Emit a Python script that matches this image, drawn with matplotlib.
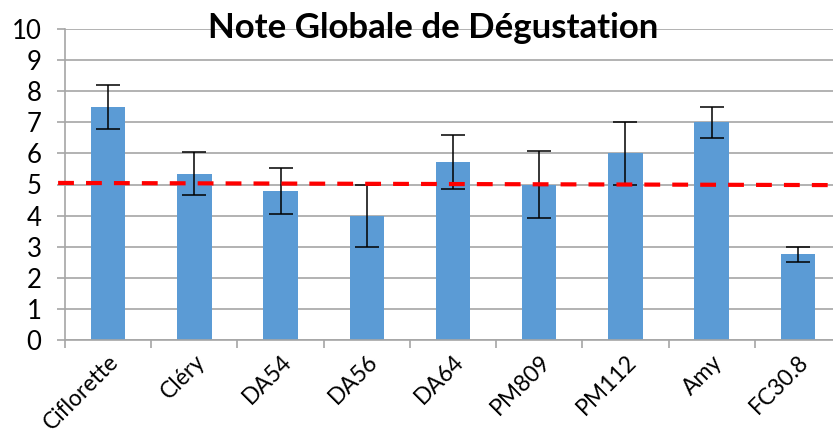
import matplotlib
matplotlib.use("Agg")
import matplotlib.pyplot as plt
import matplotlib.transforms as mtransforms
import numpy as np

# data
varieties = ["Ciflorette", "Cléry", "DA54", "DA56", "DA64",
             "PM809", "PM112", "Amy", "FC30.8"]
scores = [7.5, 5.35, 4.8, 4.0, 5.72, 5.0, 6.0, 7.0, 2.75]
errors = [0.7, 0.7, 0.74, 1.0, 0.87, 1.08, 1.0, 0.5, 0.25]
mean_line = [5.05, 4.98]   # red dashed reference, left -> right
yticks = list(range(0, 11))

BLUE = "#5B9BD5"
GRID = "#A6A6A6"

plt.rcParams["font.family"] = ["Lato", "DejaVu Sans"]

fig = plt.figure(figsize=(8.33, 4.30), dpi=100)
# plot area runs a little past the right edge, as in the reference crop
ax = fig.add_axes([65 / 833, 1 - 340 / 430, 776 / 833, 311 / 430])

x = np.arange(len(varieties))
ax.bar(x, scores, 0.4, color=BLUE, zorder=2)
ax.errorbar(x, scores, yerr=errors, fmt="none", ecolor="black",
            elinewidth=1.1, capsize=8.5, capthick=1.1, zorder=3)

ax.plot([-0.58, 8.5], mean_line, color="#FF0000", lw=3,
        ls=(0, (3.8, 2.9)), solid_capstyle="butt", dash_capstyle="butt",
        zorder=4, clip_on=False)

ax.set_xlim(-0.5, 8.5)
ax.set_ylim(0, 10)
ax.set_yticks(yticks)
ax.set_yticklabels([str(t) for t in yticks], fontsize=18.5)
ax.yaxis.grid(True, color=GRID, lw=1.2, zorder=0)
ax.set_axisbelow(True)

ax.set_xticks(np.arange(-0.5, 8.5, 1.0), minor=False)
ax.set_xticklabels([])
ax.set_xticks(x, minor=True)
ax.set_xticklabels(varieties, minor=True, rotation=45, ha="right",
                   va="top", rotation_mode="anchor", fontsize=16.5)
shift = mtransforms.ScaledTranslation(5 / 100, 0, fig.dpi_scale_trans)
for lab in ax.get_xticklabels(minor=True):
    lab.set_transform(lab.get_transform() + shift)
ax.tick_params(axis="x", which="minor", length=0, pad=8)
ax.tick_params(axis="x", which="major", length=6, color=GRID, width=1.2)
ax.tick_params(axis="y", length=6, color=GRID, width=1.2, pad=11)

for s in ("top", "right"):
    ax.spines[s].set_visible(False)
for s in ("left", "bottom"):
    ax.spines[s].set_color(GRID)
    ax.spines[s].set_linewidth(1.2)

fig.text(433 / 833, 1 - 28 / 430, "Note Globale de Dégustation",
         ha="center", va="center", fontsize=25, fontweight="bold")

fig.savefig("out.png", dpi=100)
